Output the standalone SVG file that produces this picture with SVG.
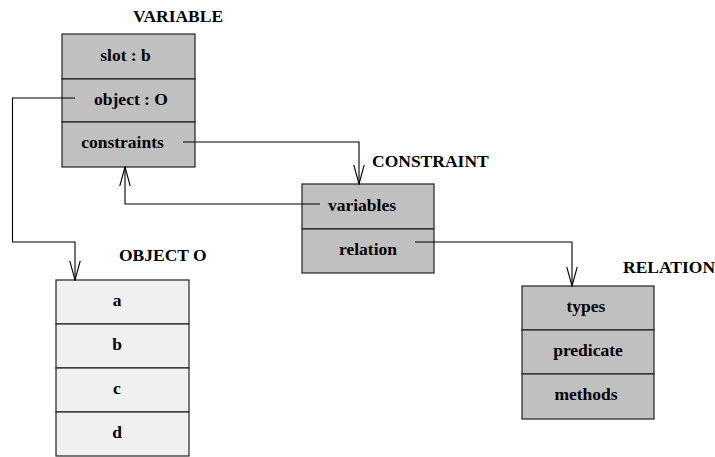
<svg xmlns="http://www.w3.org/2000/svg" width="715" height="457" viewBox="0 0 715 457">
<style>
text{font-family:"Liberation Serif","Times New Roman",serif;font-weight:bold;font-size:17.5px;fill:#000}
.t{font-size:17.5px}
.c{text-anchor:middle}
.box{stroke:#222;stroke-width:1.2}
.g{fill:#c0c0c0}
.l{fill:#f0f0f0}
.con{fill:none;stroke:#000;stroke-width:1.1}
.ah{fill:none;stroke:#000;stroke-width:1.1}
</style>
<defs>
<marker id="arr" viewBox="0 0 20 12" refX="19" refY="6" markerWidth="20" markerHeight="12" markerUnits="userSpaceOnUse" orient="auto">
<path d="M0,0.8 L19,6 L0,11.2" class="ah"/>
</marker>
</defs>
<g id="variable">
<text class="t" x="133" y="22">VARIABLE</text>
<rect class="box g" x="62" y="34" width="133" height="45"/>
<rect class="box g" x="62" y="79" width="133" height="43"/>
<rect class="box g" x="62" y="122" width="133" height="45"/>
<text class="c" x="125.5" y="61">slot : b</text>
<text class="c" x="131" y="105">object : O</text>
<text class="c" x="122.5" y="148">constraints</text>
</g>
<g id="constraint">
<text class="t" x="372" y="167">CONSTRAINT</text>
<rect class="box g" x="302" y="184" width="132" height="45"/>
<rect class="box g" x="302" y="229" width="132" height="44"/>
<text class="c" x="362" y="211">variables</text>
<text class="c" x="368" y="255">relation</text>
</g>
<g id="object-o">
<text class="t" x="119" y="261">OBJECT O</text>
<rect class="box l" x="56" y="280" width="133" height="44"/>
<rect class="box l" x="56" y="324" width="133" height="44"/>
<rect class="box l" x="56" y="368" width="133" height="44"/>
<rect class="box l" x="56" y="412" width="133" height="44"/>
<text class="c" x="117" y="306">a</text>
<text class="c" x="117" y="350">b</text>
<text class="c" x="117" y="394">c</text>
<text class="c" x="117" y="438">d</text>
</g>
<g id="relation">
<text class="t" x="623" y="273">RELATION</text>
<rect class="box g" x="522" y="286" width="132" height="44"/>
<rect class="box g" x="522" y="330" width="132" height="44"/>
<rect class="box g" x="522" y="374" width="132" height="45"/>
<text class="c" x="586" y="312">types</text>
<text class="c" x="588" y="356">predicate</text>
<text class="c" x="586" y="400">methods</text>
</g>
<g id="connectors">
<path class="con" d="M75,98 H12.5 V242 H75 V280" marker-end="url(#arr)"/>
<path class="con" d="M183,142 H359 V184" marker-end="url(#arr)"/>
<path class="con" d="M320,204 H125 V167" marker-end="url(#arr)"/>
<path class="con" d="M415,242 H572 V286" marker-end="url(#arr)"/>
</g>
</svg>
